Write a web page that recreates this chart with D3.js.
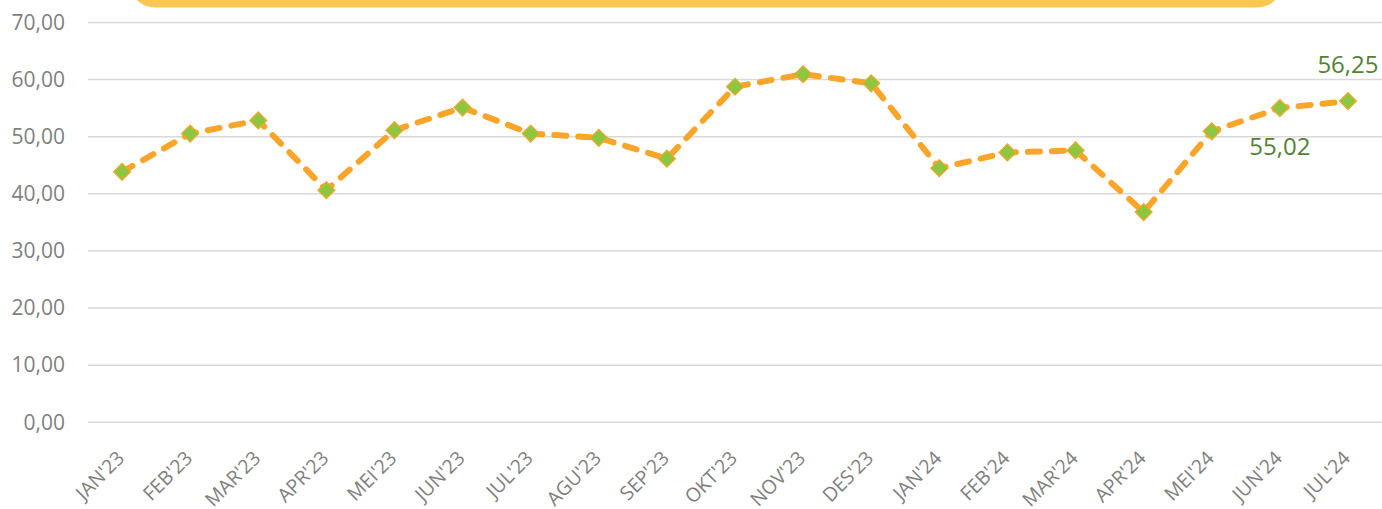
<!DOCTYPE html>
<html><head><meta charset="utf-8">
<script src="https://cdn.jsdelivr.net/npm/d3@7"></script>
<style>
html,body{margin:0;padding:0;background:#fff;}
svg{display:block;font-family:"Open Sans",sans-serif;}
</style></head>
<body>
<svg id="chart" width="1382" height="509"></svg>
<script>
const categories = ["JAN'23","FEB'23","MAR'23","APR'23","MEI'23","JUN'23","JUL'23","AGU'23","SEP'23","OKT'23","NOV'23","DES'23","JAN'24","FEB'24","MAR'24","APR'24","MEI'24","JUN'24","JUL'24"];
const values = [43.85,50.55,52.85,40.65,51.15,55.1,50.55,49.8,46.15,58.75,60.95,59.35,44.5,47.25,47.6,36.8,50.95,55.02,56.25];
const yTicks = [0,10,20,30,40,50,60,70];
const labelled = [{i:17, pos:"below"},{i:18, pos:"above"}];

(function(){
const svg = d3.select("#chart");
const pL = 88, pR = 1382, pT = 22.5, pB = 422.3;

const x = d3.scalePoint().domain(categories).range([pL, pR]).padding(0.5);
const y = d3.scaleLinear().domain([0,70]).range([pB, pT]);

// banner
svg.append("rect").attr("x",130).attr("y",-40).attr("width",1152).attr("height",47.5)
  .attr("rx",25).attr("fill","#FAC752");

// gridlines
svg.append("g").selectAll("line").data(yTicks).join("line")
  .attr("x1",pL).attr("x2",pR)
  .attr("y1",d=>y(d)).attr("y2",d=>y(d))
  .attr("stroke","#d9d9d9").attr("stroke-width",1.5);

const fmt = v => v.toFixed(2).replace(".", ",");

// y axis
const yAxis = svg.append("g").attr("transform",`translate(${pL},0)`)
  .call(d3.axisLeft(y).tickValues(yTicks).tickFormat(fmt).tickSize(0).tickPadding(23));
yAxis.select(".domain").remove();
yAxis.selectAll("text").attr("fill","#7f7f7f").style("font-size","21px").style("font-family","'Open Sans',sans-serif");

// x axis
const xAxis = svg.append("g").attr("transform",`translate(0,${pB})`)
  .call(d3.axisBottom(x).tickSize(0).tickPadding(0));
xAxis.select(".domain").remove();
xAxis.selectAll("text")
  .attr("fill","#7f7f7f").style("font-size","19.5px").style("font-family","'Open Sans',sans-serif")
  .attr("text-anchor","end").attr("dy",0).attr("y",0)
  .attr("transform","translate(3,37) rotate(-45)");

// line
const line = d3.line().x((d,i)=>x(categories[i])).y(d=>y(d));
svg.append("path").datum(values).attr("d",line)
  .attr("fill","none").attr("stroke","#F9A52A").attr("stroke-width",6)
  .attr("stroke-dasharray","12,12").attr("stroke-linecap","round").attr("stroke-linejoin","round");

// markers
const sym = d3.symbol().type(d3.symbolSquare).size(145);
svg.append("g").selectAll("path").data(values).join("path")
  .attr("d",sym)
  .attr("transform",(d,i)=>`translate(${x(categories[i])},${y(d)}) rotate(45)`)
  .attr("fill","#8DC63F").attr("stroke","#F9A52A").attr("stroke-width",1.2);

// data labels
svg.append("g").selectAll("text").data(labelled).join("text")
  .attr("x",d=>x(categories[d.i]))
  .attr("y",d=>y(values[d.i]) + (d.pos==="below" ? 47 : -28))
  .attr("text-anchor","middle")
  .attr("fill","#548235").style("font-size","24px")
  .text(d=>fmt(values[d.i]));
})();
</script>
</body></html>
